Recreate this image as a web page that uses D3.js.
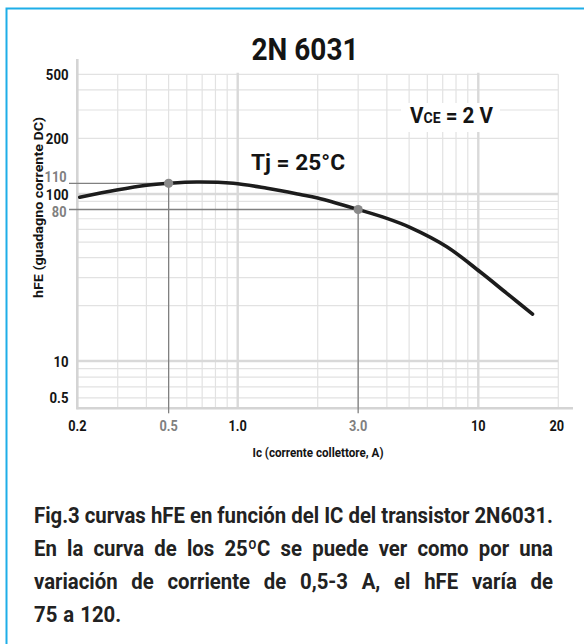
<!DOCTYPE html>
<html>
<head>
<meta charset="utf-8">
<script src="https://cdn.jsdelivr.net/npm/d3@7"></script>
<style>
  body { margin: 0; background: #fff; }
  svg { display: block; }
</style>
</head>
<body>
<svg id="chart" width="584" height="644"></svg>
<script>
// hFE curve of the 2N6031 at Tj = 25°C, VCE = 2 V
var curveIc  = [0.205, 0.297, 0.401, 0.5, 0.663, 0.957, 1.29, 1.72, 2.0, 3.0, 4.0, 5.04, 7.29, 10.15, 12.8, 16.0];
var curveHfe = [95.4, 103.6, 108.1, 110, 111.9, 110, 105.2, 99.3, 94.4, 80, 70.4, 61.9, 46.8, 32.6, 23.9, 18.0];

// marked points on the curve
var markIc  = [0.5, 3.0];
var markHfe = [110, 80];
var markLabels = ["110", "80"];

// grid of the log paper
var xGrid = [0.3, 0.4, 0.5, 0.6, 0.7, 0.8, 0.9, 2, 3, 4, 5, 6, 7, 8, 9, 20];
var xGridMajor = [1, 10];
var yGrid = [6, 7, 8, 9, 20, 30, 40, 50, 60, 70, 80, 90, 200, 300, 400, 500];
var yGridMajor = [10, 100];

// tick labels as printed
var xTickValues = [0.2, 0.5, 1, 3, 10, 20];
var xTickLabels = ["0.2", "0.5", "1.0", "3.0", "10", "20"];
var yTickValues = [500, 200, 100, 10, 6];
var yTickLabels = ["500", "200", "100", "10", "0.5"];

var captionLines = [
    "Fig.3 curvas hFE en función del IC del transistor 2N6031.",
    "En la curva de los 25ºC se puede ver como por una",
    "variación de corriente de 0,5-3 A, el hFE varía de",
    "75 a 120."
];

var FONT = "Roboto, 'Liberation Sans', sans-serif";
var GRID = "#e2e2e2", GRID_MAJOR = "#d9d9d9", MARK = "#808080", INK = "#141414";
var SX = 0.85;   // the printed font is a condensed one

var svg = d3.select("#chart").style("font-family", FONT).style("font-weight", 700);

// the printed paper is not a perfect log grid, so the scales are piecewise
var x = d3.scaleLog().domain([0.2, 1, 2, 10, 20]).range([77.3, 237.7, 317.7, 478.3, 558.3]);
var y = d3.scaleLog().domain([5.2, 10, 20, 100, 110, 200, 500]).range([408.3, 361, 305.7, 194, 183.3, 138.3, 74.3]);

var xMin = 0.2, xMax = 20, yMin = 5.2, yMax = 500;

function narrow(sel, px, py, sx) {
    return sel.attr("transform", "translate(" + px + "," + py + ") scale(" + (sx || SX) + ",1)");
}

// frame
svg.append("rect")
    .attr("x", 6.5).attr("y", 8.5)
    .attr("width", 620).attr("height", 700)
    .attr("fill", "none")
    .attr("stroke", "#1eaee8")
    .attr("stroke-width", 2);

// grid
var grid = svg.append("g");
grid.selectAll(".hg").data(yGrid).enter().append("line")
    .attr("x1", x(xMin)).attr("x2", x(xMax))
    .attr("y1", d => y(d)).attr("y2", d => y(d))
    .attr("stroke", GRID).attr("stroke-width", 1.2);
grid.selectAll(".vg").data(xGrid).enter().append("line")
    .attr("x1", d => x(d)).attr("x2", d => x(d))
    .attr("y1", y(yMax)).attr("y2", y(yMin))
    .attr("stroke", GRID).attr("stroke-width", 1.2);
grid.selectAll(".hgm").data(yGridMajor).enter().append("line")
    .attr("x1", x(xMin)).attr("x2", x(xMax))
    .attr("y1", d => y(d)).attr("y2", d => y(d))
    .attr("stroke", GRID_MAJOR).attr("stroke-width", 2.4);
grid.selectAll(".vgm").data(xGridMajor).enter().append("line")
    .attr("x1", d => x(d)).attr("x2", d => x(d))
    .attr("y1", y(yMax) - 1.5).attr("y2", y(yMin))
    .attr("stroke", GRID_MAJOR).attr("stroke-width", 2.4);

// axes lines
svg.append("line")
    .attr("x1", x(xMin)).attr("x2", x(xMin))
    .attr("y1", 59).attr("y2", y(yMin) + 1)
    .attr("stroke", "#d4d4d4").attr("stroke-width", 2.6);
svg.append("line")
    .attr("x1", x(xMin) - 1).attr("x2", 573)
    .attr("y1", y(yMin)).attr("y2", y(yMin))
    .attr("stroke", "#d4d4d4").attr("stroke-width", 2.6);

// white boxes behind the two inner labels
svg.append("rect").attr("x", 401).attr("y", 103).attr("width", 99).attr("height", 29).attr("fill", "#fff");
svg.append("rect").attr("x", 247).attr("y", 140).attr("width", 102).attr("height", 40).attr("fill", "#fff");

var vce = svg.append("text").attr("x", 410).attr("y", 123).attr("fill", INK)
    .style("font-size", "22px")
    .attr("textLength", 83).attr("lengthAdjust", "spacingAndGlyphs");
vce.append("tspan").text("V");
vce.append("tspan").style("font-size", "15px").text("CE");
vce.append("tspan").text(" = 2 V");

svg.append("text").attr("x", 251).attr("y", 170).attr("fill", INK)
    .style("font-size", "22px")
    .attr("textLength", 94).attr("lengthAdjust", "spacingAndGlyphs")
    .text("Tj = 25°C");

// reference lines to the marked points
var marks = markIc.map((d, i) => ({ ic: d, hfe: markHfe[i], label: markLabels[i] }));
svg.selectAll(".mh").data(marks).enter().append("line")
    .attr("x1", 69).attr("x2", d => x(d.ic))
    .attr("y1", d => y(d.hfe)).attr("y2", d => y(d.hfe))
    .attr("stroke", MARK).attr("stroke-width", 1.3);
svg.selectAll(".mv").data(marks).enter().append("line")
    .attr("x1", d => x(d.ic)).attr("x2", d => x(d.ic))
    .attr("y1", d => y(d.hfe)).attr("y2", y(yMin) + 5)
    .attr("stroke", MARK).attr("stroke-width", 1.3);

// the curve
var pts = curveIc.map((d, i) => [x(d), y(curveHfe[i])]);
svg.append("path")
    .attr("d", d3.line().curve(d3.curveCatmullRom)(pts))
    .attr("fill", "none")
    .attr("stroke", "#1c1c1c")
    .attr("stroke-width", 3.6)
    .attr("stroke-linecap", "round");

svg.selectAll(".dot").data(marks).enter().append("circle")
    .attr("cx", d => x(d.ic)).attr("cy", d => y(d.hfe))
    .attr("r", 4.6).attr("fill", "#8a8a8a");

// y tick labels
svg.selectAll(".yl").data(yTickValues).enter().append("text")
    .each(function(d) { narrow(d3.select(this), 68.5, y(d) + 5.5); })
    .attr("text-anchor", "end").attr("fill", INK)
    .style("font-size", "15.5px")
    .text((d, i) => yTickLabels[i]);
svg.selectAll(".ml").data(marks).enter().append("text")
    .each(function(d) { narrow(d3.select(this), 66.5, y(d.hfe) + (d.hfe > 100 ? -1.3 : 7.7)); })
    .attr("text-anchor", "end").attr("fill", MARK)
    .style("font-size", "15px")
    .text(d => d.label);

// x tick labels
svg.selectAll(".xl").data(xTickValues).enter().append("text")
    .each(function(d, i) { narrow(d3.select(this), x(d) - (i == xTickValues.length - 1 ? 1.5 : 0), 431); })
    .attr("text-anchor", "middle")
    .attr("fill", d => markIc.indexOf(d) >= 0 ? MARK : INK)
    .style("font-size", "15px")
    .text((d, i) => xTickLabels[i]);

// titles
svg.append("text").attr("x", 305).attr("y", 60).attr("text-anchor", "middle")
    .attr("fill", INK).style("font-size", "32px")
    .attr("textLength", 107).attr("lengthAdjust", "spacingAndGlyphs")
    .text("2N 6031");
svg.append("text").attr("x", 318).attr("y", 457).attr("text-anchor", "middle")
    .attr("fill", INK).style("font-size", "13.5px")
    .attr("textLength", 131).attr("lengthAdjust", "spacingAndGlyphs")
    .text("Ic (corrente collettore, A)");
svg.append("text").attr("transform", "translate(42.5,207.5) rotate(-90)").attr("text-anchor", "middle")
    .attr("fill", INK).style("font-size", "13.5px")
    .attr("textLength", 181).attr("lengthAdjust", "spacingAndGlyphs")
    .text("hFE (guadagno corrente DC)");

// caption, justified word by word, condensed so that line 1 fits the width
var capLeft = 34, capRight = 553, capTop = 523, capStep = 33;
var cap = svg.append("g").attr("fill", "#222").style("font-size", "22px");
var probe = cap.append("text").attr("xml:space", "preserve").text(captionLines[0]);
var capSX = (capRight - capLeft) / probe.node().getComputedTextLength();
probe.remove();
captionLines.forEach(function(line, li) {
    var words = line.split(" ");
    var nodes = words.map(w => cap.append("text").text(w));
    var widths = nodes.map(n => n.node().getComputedTextLength() * capSX);
    var total = d3.sum(widths);
    var last = li == captionLines.length - 1;
    var gap = last ? 6 : (capRight - capLeft - total) / (words.length - 1);
    var cx = capLeft;
    nodes.forEach(function(n, i) {
        narrow(n, cx, capTop + li * capStep, capSX);
        cx += widths[i] + gap;
    });
});
</script>
</body>
</html>
